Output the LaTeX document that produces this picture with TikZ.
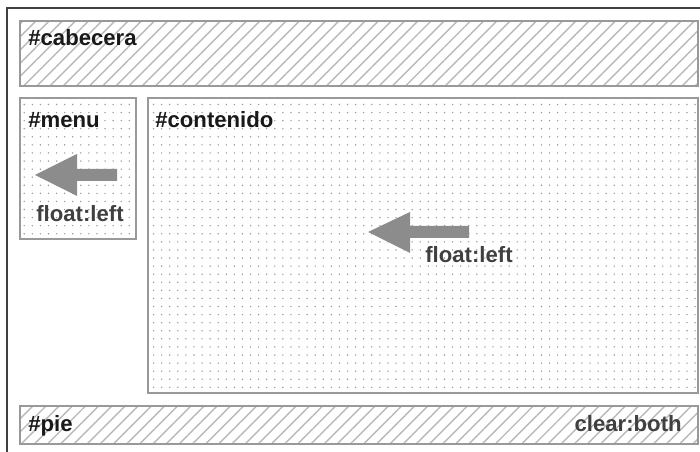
\documentclass[tikz,border=0pt]{standalone}
\usepackage{fontspec}
\setmainfont{Liberation Sans}
\usetikzlibrary{patterns.meta}

\begin{document}
\begin{tikzpicture}[x=0.02cm, y=-0.02cm,
	hatchbox/.style={draw=black!40, line width=0.04cm, pattern={Lines[angle=45, distance=5.3pt, line width=0.8pt]}, pattern color=black!28},
	dotbox/.style={draw=black!40, line width=0.04cm, pattern={Dots[distance=4.6pt, radius=0.45pt]}, pattern color=black!40},
	boxlabel/.style={anchor=base west, inner sep=0pt, font=\fontsize{12.6}{14}\selectfont\bfseries, text=black!90},
	floatlabel/.style={boxlabel, text=black!75},
	floatarrow/.style={fill=black!45, draw=none}]
			%%%%% START %%%%%
			
			\clip (0, 0) rectangle (700, 452);
			\draw[line width=0.04cm, draw=black!75] (7, 8) rectangle (720, 470);
			
			% cabecera
			\draw[hatchbox] (20, 21) rectangle (698, 86);
			\node[boxlabel] (cabecera) at (28, 46) {\#cabecera};
			
			% menu
			\draw[dotbox] (20, 98) rectangle (136, 239);
			\node[boxlabel] (menu) at (28, 128) {\#menu};
			\fill[floatarrow] (117, 169) -- (77, 169) -- (77, 154) -- (35, 175) -- (77, 196) -- (77, 181) -- (117, 181) -- cycle;
			\node[floatlabel] (menufloat) at (36, 222) {float:left};
			
			% contenido
			\draw[dotbox] (148, 98) rectangle (698, 393);
			\node[boxlabel] (contenido) at (155, 128) {\#contenido};
			\fill[floatarrow] (469, 226) -- (410, 226) -- (410, 212) -- (368, 232) -- (410, 253) -- (410, 238) -- (469, 238) -- cycle;
			\node[floatlabel] (contenidofloat) at (425, 263) {float:left};
			
			% pie
			\draw[hatchbox] (20, 406) rectangle (698, 444);
			\node[boxlabel] (pie) at (28, 432) {\#pie};
			\node[floatlabel, anchor=base east] (clearboth) at (682, 432) {clear:both};
			
			%%%%% END %%%%%
		\end{tikzpicture}
\end{document}
